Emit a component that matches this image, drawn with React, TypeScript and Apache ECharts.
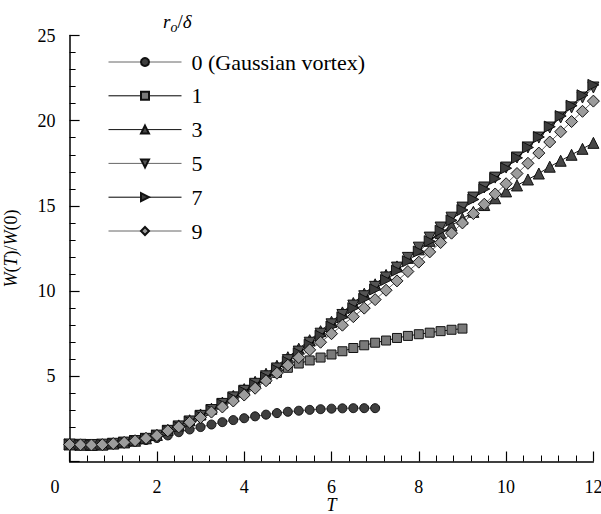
import React, { useEffect, useRef } from "react";
import * as echarts from "echarts";

const STEP = 0.25;
const seriesNames = ["0 (Gaussian vortex)", "1", "3", "5", "7", "9"];

const gauss = [1.0, 0.98, 0.97, 0.99, 1.03, 1.09, 1.16, 1.26,
  1.38, 1.53, 1.72, 1.88, 2.02, 2.17, 2.31, 2.43, 2.54, 2.65, 2.75, 2.84,
  2.92, 2.98, 3.03, 3.07, 3.1, 3.12, 3.13, 3.13, 3.13];
const r1 = [1.0, 0.98, 0.97, 0.99, 1.05, 1.12, 1.22, 1.36,
  1.55, 1.83, 2.08, 2.38, 2.72, 3.06, 3.42, 3.8, 4.2, 4.55,
  4.85, 5.2, 5.5, 5.75, 5.93, 6.1, 6.28, 6.47, 6.66, 6.82, 6.97, 7.1, 7.25, 7.37, 7.47, 7.56, 7.65, 7.73, 7.8];
const r3 = [1.0, 0.98, 0.97, 0.99, 1.05, 1.12, 1.22, 1.36,
  1.56, 1.86, 2.12, 2.42, 2.76, 3.1, 3.46, 3.85, 4.25, 4.68, 5.15, 5.62,
  6.12, 6.62, 7.12, 7.65, 8.2, 8.75, 9.3, 9.85, 10.4, 10.95, 11.45, 11.95,
  12.45, 12.95, 13.4, 13.85, 14.25, 14.65, 15.05, 15.45, 15.85, 16.2, 16.55, 16.9, 17.3, 17.65, 18.0, 18.35, 18.7];
const r5 = [1.0, 0.98, 0.97, 0.99, 1.04, 1.11, 1.2, 1.33,
  1.52, 1.8, 2.06, 2.35, 2.68, 3.02, 3.38, 3.76, 4.15, 4.56, 5.0, 5.46,
  5.95, 6.45, 6.97, 7.5, 8.05, 8.6, 9.15, 9.7, 10.25, 10.8, 11.38, 11.95,
  12.55, 13.14, 13.73, 14.31, 14.9, 15.49, 16.08, 16.66, 17.25, 17.84, 18.43, 19.01, 19.6, 20.19, 20.78, 21.36, 21.95];
const r7 = [1.0, 0.98, 0.97, 0.99, 1.04, 1.11, 1.2, 1.33,
  1.52, 1.78, 2.04, 2.33, 2.65, 2.99, 3.35, 3.72, 4.1, 4.5, 4.93, 5.38,
  5.85, 6.35, 6.85, 7.38, 7.92, 8.46, 9.0, 9.55, 10.1, 10.65, 11.2, 11.75,
  12.32, 12.93, 13.54, 14.15, 14.76, 15.38, 15.99, 16.6, 17.21, 17.82, 18.43, 19.04, 19.65, 20.27, 20.88, 21.49, 22.1];
const r9 = [1.0, 0.98, 0.97, 0.99, 1.05, 1.12, 1.22, 1.36,
  1.52, 1.8, 2.03, 2.3, 2.58, 2.9, 3.2, 3.55, 3.9, 4.3, 4.74, 5.18,
  5.65, 6.1, 6.55, 7.0, 7.5, 8.0, 8.5, 9.0, 9.5, 10.05, 10.6, 11.15,
  11.7, 12.3, 12.85, 13.4, 14.0, 14.55, 15.1, 15.7, 16.3, 16.9, 17.5, 18.1, 18.75, 19.35, 19.95, 20.55, 21.15];

const xTicks = { min: 0, max: 12, interval: 2 };
const yTicks = { min: 0, max: 25, interval: 5 };

const FONT = "'Liberation Serif', 'Times New Roman', serif";
const W = 601;
const H = 514;

function pairs(vals: number[]) {
  return vals.map((v, i) => [i * STEP, v]);
}

export default function App() {
  const ref = useRef<HTMLDivElement>(null);
  useEffect(() => {
    if (!ref.current) return;
    const chart = echarts.init(ref.current, undefined, { renderer: "svg", width: W, height: H });
    const styles = [
      { data: gauss, symbol: "circle", size: 9, rot: 0, fill: "#3f3f3f", line: "#666" },
      { data: r1, symbol: "rect", size: 9, rot: 0, fill: "#7a7a7a", line: "#000" },
      { data: r3, symbol: "triangle", size: 11, rot: 0, fill: "#474747", line: "#111" },
      { data: r5, symbol: "triangle", size: 11, rot: 180, fill: "#555555", line: "#666" },
      { data: r7, symbol: "triangle", size: 11, rot: -90, fill: "#3c3c3c", line: "#000" },
      { data: r9, symbol: "diamond", size: 12, rot: 0, fill: "#9c9c9c", line: "#666" },
    ];
    const series = styles.map((s, k) => ({
      name: seriesNames[k],
      type: "line",
      data: pairs(s.data),
      symbol: s.symbol,
      symbolSize: s.size,
      symbolRotate: s.rot,
      showAllSymbol: true,
      lineStyle: { color: s.line, width: 1 },
      itemStyle: { color: s.fill, borderColor: "#111", borderWidth: 1 },
      emphasis: { disabled: true },
      z: 2 + k,
    }));
    chart.setOption({
      animation: false,
      textStyle: { fontFamily: FONT },
      grid: { left: 69.6, width: 523.8, top: 35.5, height: 426, outerBoundsMode: "none", containLabel: false },
      graphic: [
        {
          type: "text",
          x: 163,
          y: 8,
          style: {
            text: "{i|r}{s|o}{n|/}{i|δ}",
            verticalAlign: "top",
            align: "left",
            rich: {
              i: { fontFamily: FONT, fontStyle: "italic", fontSize: 19, fill: "#000" },
              s: { fontFamily: FONT, fontStyle: "italic", fontSize: 14, fill: "#000", padding: [12, 0, 0, 0] },
              n: { fontFamily: FONT, fontSize: 19, fill: "#000" },
            },
          },
        },
        {
          type: "text",
          x: 55,
          y: 477.5,
          style: { text: "0", fontFamily: FONT, fontSize: 18, fill: "#000", align: "center", verticalAlign: "top" },
        },
      ],
      legend: {
        orient: "vertical",
        left: 103,
        top: 46,
        itemWidth: 73,
        itemHeight: 10,
        itemGap: 11.8,
        data: seriesNames,
        lineStyle: { width: 1 },
        textStyle: { fontFamily: FONT, fontSize: 22, color: "#000", padding: [0, 0, 0, 5] },
        selectedMode: false,
      },
      xAxis: {
        type: "value",
        min: xTicks.min,
        max: xTicks.max,
        interval: xTicks.interval,
        name: "T",
        nameLocation: "middle",
        nameGap: 34.5,
        nameMoveOverlap: false,
        nameTextStyle: { fontFamily: FONT, fontStyle: "italic", fontSize: 18, color: "#000" },
        axisLine: { show: true, onZero: false, lineStyle: { color: "#000", width: 1.5 } },
        axisTick: { show: true, inside: true, length: 10, lineStyle: { color: "#000", width: 1.2 } },
        minorTick: { show: true, splitNumber: 5, length: 6, lineStyle: { color: "#000", width: 1 } },
        splitLine: { show: false },
        axisLabel: {
          fontFamily: FONT,
          fontSize: 18,
          color: "#000",
          margin: 16,
          showMinLabel: false,
        },
      },
      yAxis: {
        type: "value",
        min: yTicks.min,
        max: yTicks.max,
        interval: yTicks.interval,
        name: "{i|W}{n|(}{i|T}{n|)/}{i|W}{n|(0)}",
        nameLocation: "middle",
        nameGap: 50,
        nameMoveOverlap: false,
        nameTextStyle: {
          rich: {
            i: { fontFamily: FONT, fontStyle: "italic", fontSize: 18, color: "#000" },
            n: { fontFamily: FONT, fontSize: 18, color: "#000" },
          },
        },
        axisLine: { show: true, onZero: false, lineStyle: { color: "#000", width: 1.5 } },
        axisTick: { show: true, inside: true, length: 10, lineStyle: { color: "#000", width: 1.2 } },
        minorTick: { show: true, splitNumber: 5, length: 6, lineStyle: { color: "#000", width: 1 } },
        splitLine: { show: false },
        axisLabel: { fontFamily: FONT, fontSize: 18, color: "#000", margin: 14, showMinLabel: false },
      },
      series,
    });
    return () => chart.dispose();
  }, []);
  return (
    <div
      ref={ref}
      style={{ position: "fixed", left: 0, top: 0, width: W, height: H, background: "#fff" }}
    />
  );
}
